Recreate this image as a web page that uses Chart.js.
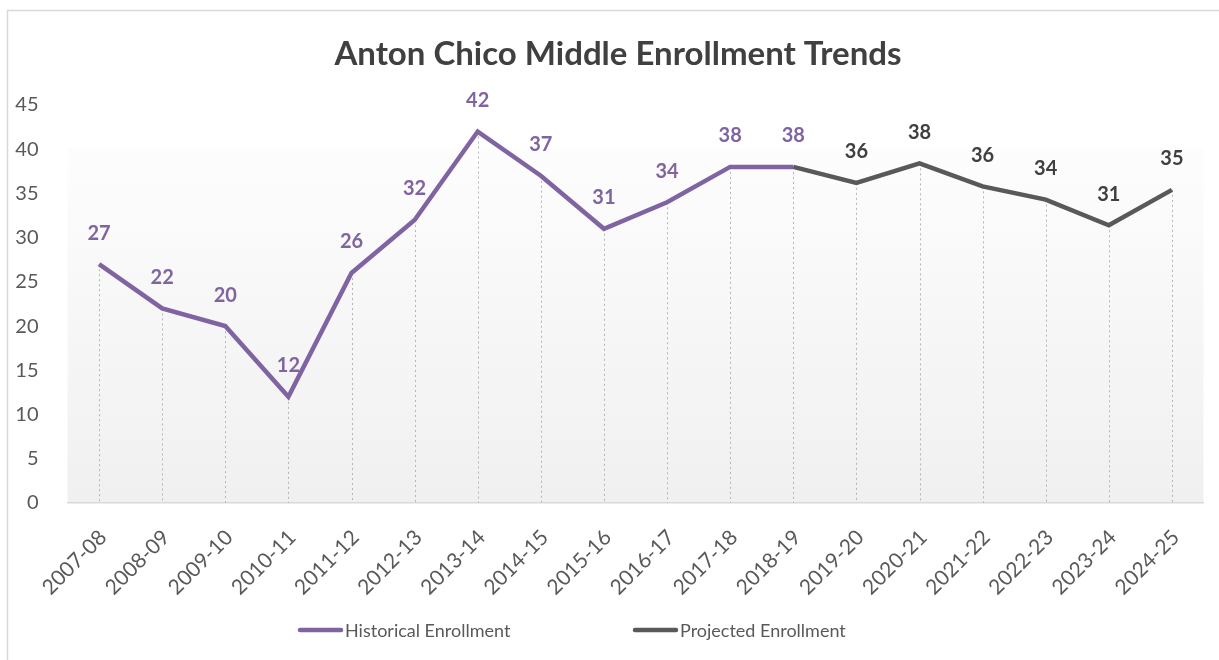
<!DOCTYPE html>
<html>
<head>
<meta charset="utf-8">
<script src="https://cdn.jsdelivr.net/npm/chart.js@4.4.1/dist/chart.umd.min.js"></script>
<style>
  html, body { margin: 0; padding: 0; background: #fff; }
  #wrap { position: absolute; left: 0; top: 0; width: 1219px; height: 660px; }
</style>
</head>
<body>
<div id="wrap"><canvas id="enrollChart"></canvas></div>
<script>
// school years on the x axis
const years = ['2007-08', '2008-09', '2009-10', '2010-11', '2011-12', '2012-13',
  '2013-14', '2014-15', '2015-16', '2016-17', '2017-18', '2018-19', '2019-20',
  '2020-21', '2021-22', '2022-23', '2023-24', '2024-25'];

// actual counts
const historical = [27, 22, 20, 12, 26, 32, 42, 37, 31, 34, 38, 38,
  null, null, null, null, null, null];

// projection starts from the last actual year
const projected = [null, null, null, null, null, null, null, null, null, null, null, 38,
  36.2, 38.4, 35.8, 34.3, 31.4, 35.4];

const yTicks = [0, 5, 10, 15, 20, 25, 30, 35, 40, 45];

const chartTitle = 'Anton Chico Middle Enrollment Trends';

const purple = '#8064A2';
const grey = '#595959';
const fontName = 'Lato, "Open Sans", sans-serif';

// light frame round the whole chart, title, plot background
const framePlugin = {
  id: 'frame',
  beforeDraw(chart) {
    const ctx = chart.ctx;
    ctx.save();
    ctx.strokeStyle = '#d9d9d9';
    ctx.lineWidth = 1.5;
    ctx.strokeRect(7.5, 10.5, chart.width + 20, chart.height + 20);

    ctx.fillStyle = '#404040';
    ctx.font = 'bold 33px ' + fontName;
    ctx.textAlign = 'center';
    ctx.textBaseline = 'middle';
    ctx.fillText(chartTitle, 618, 54);

    // white at the top fading to light grey
    const a = chart.chartArea;
    const top = a.top + 43;
    const g = ctx.createLinearGradient(0, top, 0, a.bottom);
    g.addColorStop(0, '#fdfdfd');
    g.addColorStop(1, '#f0f0f0');
    ctx.fillStyle = g;
    ctx.fillRect(a.left, top, a.right - a.left, a.bottom - top);
    ctx.restore();
  }
};

// dotted drop lines from each point down to the axis
const dropLines = {
  id: 'dropLines',
  beforeDatasetsDraw(chart) {
    const ctx = chart.ctx;
    const x = chart.scales.x, y = chart.scales.y;
    ctx.save();
    ctx.strokeStyle = '#b4b4b4';
    ctx.lineWidth = 1;
    ctx.setLineDash([2, 3]);
    years.forEach((yr, i) => {
      const vals = [historical[i], projected[i]].filter(v => v !== null);
      if (!vals.length) return;
      const px = Math.round(x.getPixelForValue(i)) + 0.5;
      ctx.beginPath();
      ctx.moveTo(px, y.getPixelForValue(Math.max(...vals)));
      ctx.lineTo(px, y.getPixelForValue(0));
      ctx.stroke();
    });
    ctx.restore();
  }
};

// value labels above the points
const valueLabels = {
  id: 'valueLabels',
  afterDatasetsDraw(chart) {
    const ctx = chart.ctx;
    ctx.save();
    ctx.font = 'bold 20px ' + fontName;
    ctx.textAlign = 'center';
    ctx.textBaseline = 'middle';
    chart.data.datasets.forEach((ds, di) => {
      const meta = chart.getDatasetMeta(di);
      ds.data.forEach((v, i) => {
        if (v === null) return;
        // the joining year is labelled by the historical series only
        if (di === 1 && historical[i] !== null) return;
        const pt = meta.data[i];
        ctx.fillStyle = di === 0 ? purple : '#404040';
        ctx.fillText(Math.round(v), pt.x, pt.y - 31);
      });
    });
    ctx.restore();
  }
};

// legend drawn Excel style: wide gap between the two entries
const lineLegend = {
  id: 'lineLegend',
  afterDraw(chart) {
    const ctx = chart.ctx;
    const starts = [298, 633];
    const y = 630;
    ctx.save();
    ctx.font = '18px ' + fontName;
    ctx.textBaseline = 'middle';
    ctx.lineCap = 'round';
    chart.data.datasets.forEach((ds, i) => {
      const x0 = starts[i];
      ctx.strokeStyle = ds.borderColor;
      ctx.lineWidth = 4.5;
      ctx.beginPath();
      ctx.moveTo(x0 + 2, y);
      ctx.lineTo(x0 + 43, y);
      ctx.stroke();
      ctx.fillStyle = grey;
      ctx.fillText(ds.label, x0 + 47, y + 1);
    });
    ctx.restore();
  }
};

new Chart(document.getElementById('enrollChart'), {
  type: 'line',
  data: {
    labels: years,
    datasets: [{
      label: 'Historical Enrollment',
      data: historical,
      borderColor: purple,
      backgroundColor: purple,
      borderWidth: 4.5,
      pointRadius: 0,
      tension: 0,
      spanGaps: false
    }, {
      label: 'Projected Enrollment',
      data: projected,
      borderColor: grey,
      backgroundColor: grey,
      borderWidth: 4.5,
      pointRadius: 0,
      tension: 0,
      spanGaps: false
    }]
  },
  options: {
    responsive: true,
    maintainAspectRatio: false,
    animation: false,
    layout: { padding: { left: 0, right: 15.5, top: 105, bottom: 49 } },
    plugins: {
      title: { display: false },
      legend: { display: false },
      tooltip: { enabled: false }
    },
    scales: {
      x: {
        offset: true,
        grid: { display: false },
        border: { display: true, color: '#d9d9d9', width: 1.5 },
        ticks: {
          color: grey,
          minRotation: 45,
          maxRotation: 45,
          padding: 14,
          labelOffset: 4,
          font: { family: fontName, size: 21 }
        },
        afterFit(scale) { scale.height = 108; }
      },
      y: {
        min: 0,
        max: 45,
        grid: { display: false },
        border: { display: false },
        afterBuildTicks(scale) { scale.ticks = yTicks.map(v => ({ value: v })); },
        ticks: {
          color: grey,
          padding: 21,
          font: { family: fontName, size: 20 }
        },
        afterFit(scale) { scale.width = 67.5; }
      }
    }
  },
  plugins: [framePlugin, dropLines, valueLabels, lineLegend]
});
</script>
</body>
</html>
